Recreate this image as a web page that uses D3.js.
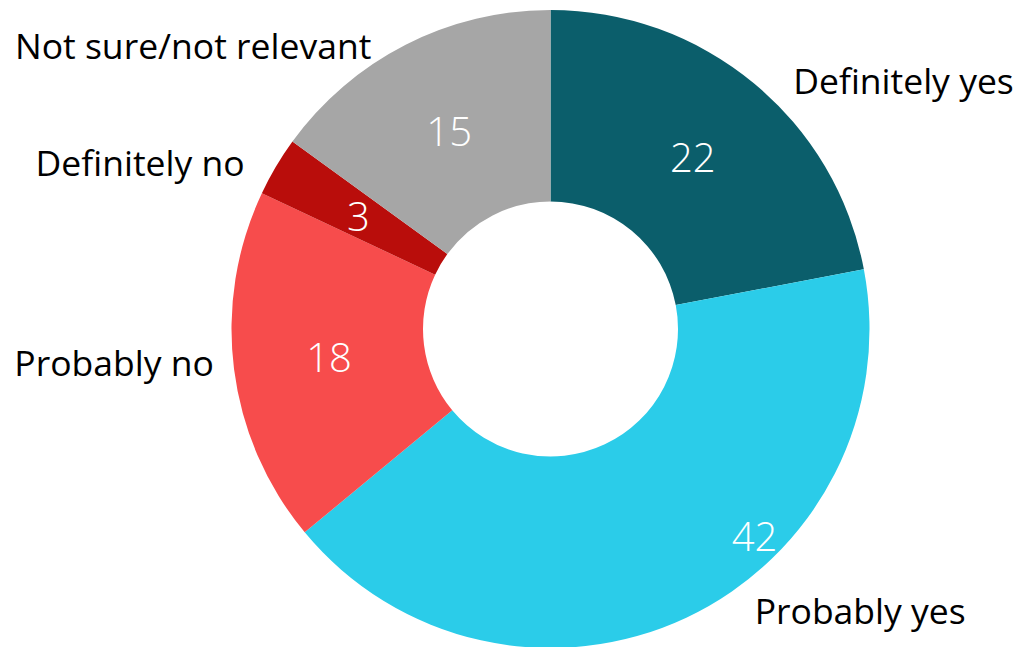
<!DOCTYPE html>
<html>
<head>
<meta charset="utf-8">
<script src="https://cdn.jsdelivr.net/npm/d3@7"></script>
<style>
  html, body { margin: 0; padding: 0; background: #fff; }
  svg { display: block; }
</style>
</head>
<body>
<svg id="chart" width="1018" height="647"></svg>
<script>
// ---- data ----
const categories = ["Definitely yes", "Probably yes", "Probably no", "Definitely no", "Not sure/not relevant"];
const values = [22, 42, 18, 3, 15];
const colors = ["#0b5e6b", "#2bcce9", "#f74c4c", "#b90d0b", "#a6a6a6"];

// ---- layout ----
const W = 1018, H = 647;
const cx = 550.5, cy = 329;
const outerR = 319, innerR = 127.5;

// outside category label placement (angle in degrees clockwise from 12 o'clock, radius)
const catLabelPolar = [[54.8, 432], [132.2, 418], [265.7, 437.7], [292.1, 443], [308.5, 456.6]];
// value label override (Excel moved the "42" label)
const valLabelPolar = {1: [135.3, 290]};

const svg = d3.select("#chart");
const g = svg.append("g").attr("transform", `translate(${cx},${cy})`);

const data = categories.map((c, i) => ({ cat: c, value: values[i], color: colors[i], i }));
const pie = d3.pie().sort(null).value(d => d.value);
const arcs = pie(data);
const arc = d3.arc().innerRadius(innerR).outerRadius(outerR);

g.selectAll("path.slice")
  .data(arcs)
  .join("path")
  .attr("class", "slice")
  .attr("d", arc)
  .attr("fill", d => d.data.color);

const polar = (deg, r) => {
  const a = deg * Math.PI / 180;
  return [r * Math.sin(a), -r * Math.cos(a)];
};

// value labels
g.selectAll("text.val")
  .data(arcs)
  .join("text")
  .attr("class", "val")
  .attr("transform", d => {
    const p = valLabelPolar[d.data.i] ? polar(...valLabelPolar[d.data.i]) : arc.centroid(d);
    return `translate(${p[0]},${p[1]})`;
  })
  .attr("text-anchor", "middle")
  .attr("dominant-baseline", "central")
  .attr("fill", "#ffffff")
  .style("font-family", "'Open Sans', 'Noto Sans', sans-serif")
  .style("font-weight", 300)
  .style("font-size", "40px")
  .text(d => d.data.value);

// category labels
g.selectAll("text.cat")
  .data(arcs)
  .join("text")
  .attr("class", "cat")
  .attr("transform", d => {
    const p = polar(...catLabelPolar[d.data.i]);
    return `translate(${p[0]},${p[1]})`;
  })
  .attr("text-anchor", "middle")
  .attr("dominant-baseline", "central")
  .attr("fill", "#000000")
  .style("font-family", "'Open Sans', 'Noto Sans', sans-serif")
  .style("font-size", "35.5px")
  .text(d => d.data.cat);
</script>
</body>
</html>
